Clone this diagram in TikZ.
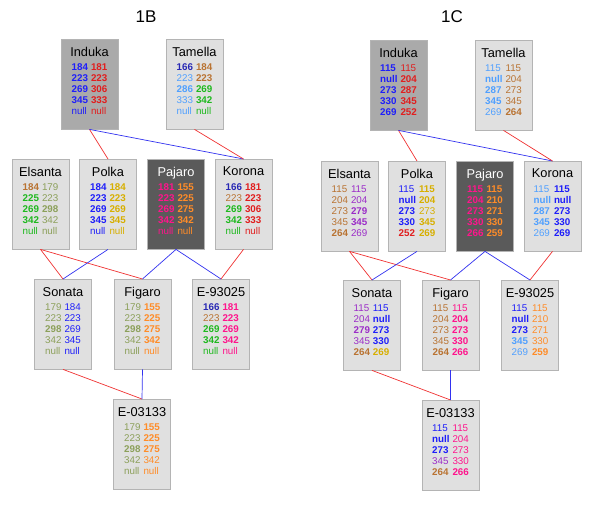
\documentclass[tikz,border=0pt]{standalone}
\usepackage{fontspec}
\setmainfont{Liberation Sans}
\usetikzlibrary{positioning}

\definecolor{cblue}{RGB}{30,30,250}
\definecolor{cdblue}{RGB}{40,40,180}
\definecolor{cred}{RGB}{225,30,30}
\definecolor{cbrown}{RGB}{185,115,50}
\definecolor{clblue}{RGB}{80,160,255}
\definecolor{cgreen}{RGB}{30,185,30}
\definecolor{colive}{RGB}{140,160,90}
\definecolor{cgold}{RGB}{215,175,0}
\definecolor{cpink}{RGB}{255,20,140}
\definecolor{corange}{RGB}{255,140,40}
\definecolor{cpurple}{RGB}{155,45,200}
\definecolor{boxlight}{RGB}{224,224,224}
\definecolor{boxmid}{RGB}{170,170,170}
\definecolor{boxdark}{RGB}{90,90,90}
\definecolor{boxline}{RGB}{180,180,180}
\definecolor{linkred}{RGB}{240,50,50}
\definecolor{linkblue}{RGB}{50,50,240}

\newcommand{\valB}[2]{\textcolor{#1}{\textbf{#2}}}
\newcommand{\valN}[2]{\textcolor{#1}{#2}}
\newcommand{\cvname}[1]{{\fontsize{12.8}{12.8}\selectfont #1}\\[3.3pt]}
\newcommand{\cvtab}[1]{\begin{tabular}[t]{@{}l@{\hspace{3pt}}l@{}}#1\rule[-7pt]{0pt}{1pt}\end{tabular}}

\begin{document}
\begin{tikzpicture}[
  x=1pt, y=-1pt,
  cv/.style={draw=boxline, fill=boxlight, minimum width=57pt, minimum height=90pt,
    anchor=north, align=center, inner sep=0pt, font=\fontsize{9.8}{11}\selectfont},
  cvmid/.style={cv, fill=boxmid},
  cvdark/.style={cv, fill=boxdark, text=white},
  ttl/.style={font=\fontsize{17}{17}\selectfont},
  lr/.style={draw=linkred, line width=0.7pt},
  lb/.style={draw=linkblue, line width=0.7pt}
]
  \useasboundingbox[fill=white] (0,0) rectangle (600,505);

  % panel 1B
  \node[ttl] (t1B) at (146,17) {1B};
  \node[cvmid] (bInduka) at (89.5,39) {\cvname{Induka}\cvtab{
    \valB{cblue}{184} & \valB{cred}{181}\\
    \valB{cblue}{223} & \valB{cred}{223}\\
    \valB{cblue}{269} & \valB{cred}{306}\\
    \valB{cblue}{345} & \valB{cred}{333}\\
    \valN{cblue}{null} & \valN{cred}{null}}};
  \node[cv] (bTamella) at (194.5,39) {\cvname{Tamella}\cvtab{
    \valB{cdblue}{166} & \valB{cbrown}{184}\\
    \valN{clblue}{223} & \valB{cbrown}{223}\\
    \valB{clblue}{286} & \valB{cgreen}{269}\\
    \valN{clblue}{333} & \valB{cgreen}{342}\\
    \valN{clblue}{null} & \valN{cgreen}{null}}};
  \node[cv] (bElsanta) at (40.5,159) {\cvname{Elsanta}\cvtab{
    \valB{cbrown}{184} & \valN{colive}{179}\\
    \valB{cgreen}{225} & \valN{colive}{223}\\
    \valB{cgreen}{269} & \valB{colive}{298}\\
    \valB{cgreen}{342} & \valN{colive}{342}\\
    \valN{cgreen}{null} & \valN{colive}{null}}};
  \node[cv] (bPolka) at (108,159) {\cvname{Polka}\cvtab{
    \valB{cblue}{184} & \valB{cgold}{184}\\
    \valB{cblue}{223} & \valB{cgold}{223}\\
    \valB{cblue}{269} & \valB{cgold}{269}\\
    \valB{cblue}{345} & \valB{cgold}{345}\\
    \valN{cblue}{null} & \valN{cgold}{null}}};
  \node[cvdark] (bPajaro) at (176,159) {\cvname{Pajaro}\cvtab{
    \valB{cpink}{181} & \valB{corange}{155}\\
    \valB{cpink}{223} & \valB{corange}{225}\\
    \valB{cpink}{269} & \valB{corange}{275}\\
    \valB{cpink}{342} & \valB{corange}{342}\\
    \valN{cpink}{null} & \valN{corange}{null}}};
  \node[cv] (bKorona) at (243.5,159) {\cvname{Korona}\cvtab{
    \valB{cdblue}{166} & \valB{cred}{181}\\
    \valN{cbrown}{223} & \valB{cred}{223}\\
    \valB{cgreen}{269} & \valB{cred}{306}\\
    \valB{cgreen}{342} & \valB{cred}{333}\\
    \valN{cgreen}{null} & \valN{cred}{null}}};
  \node[cv] (bSonata) at (63,279) {\cvname{Sonata}\cvtab{
    \valN{colive}{179} & \valN{cblue}{184}\\
    \valN{colive}{223} & \valN{cblue}{223}\\
    \valB{colive}{298} & \valN{cblue}{269}\\
    \valN{colive}{342} & \valN{cblue}{345}\\
    \valN{colive}{null} & \valN{cblue}{null}}};
  \node[cv] (bFigaro) at (142.5,279) {\cvname{Figaro}\cvtab{
    \valN{colive}{179} & \valB{corange}{155}\\
    \valN{colive}{223} & \valB{corange}{225}\\
    \valB{colive}{298} & \valB{corange}{275}\\
    \valN{colive}{342} & \valB{corange}{342}\\
    \valN{colive}{null} & \valN{corange}{null}}};
  \node[cv] (bE93025) at (221,279) {\cvname{E-93025}\cvtab{
    \valB{cdblue}{166} & \valB{cpink}{181}\\
    \valN{cbrown}{223} & \valB{cpink}{223}\\
    \valB{cgreen}{269} & \valB{cpink}{269}\\
    \valB{cgreen}{342} & \valB{cpink}{342}\\
    \valN{cgreen}{null} & \valN{cpink}{null}}};
  \node[cv] (bE03133) at (142,399) {\cvname{E-03133}\cvtab{
    \valN{colive}{179} & \valB{corange}{155}\\
    \valN{colive}{223} & \valB{corange}{225}\\
    \valB{colive}{298} & \valB{corange}{275}\\
    \valN{colive}{342} & \valN{corange}{342}\\
    \valN{colive}{null} & \valN{corange}{null}}};

  \draw[lr] (bInduka.south) -- (bPolka.north);
  \draw[lb] (bInduka.south) -- (bKorona.north);
  \draw[lr] (bTamella.south) -- (bKorona.north);
  \draw[lr] (bElsanta.south) -- (bSonata.north);
  \draw[lr] (bElsanta.south) -- (bFigaro.north);
  \draw[lb] (bPolka.south) -- (bSonata.north);
  \draw[lb] (bPajaro.south) -- (bFigaro.north);
  \draw[lb] (bPajaro.south) -- (bE93025.north);
  \draw[lr] (bKorona.south) -- (bE93025.north);
  \draw[lr] (bSonata.south) -- (bE03133.north);
  \draw[lb] (bFigaro.south) -- (bE03133.north);

  % panel 1C
  \node[ttl] (t1C) at (452,17) {1C};
  \node[cvmid] (cInduka) at (398.5,40) {\cvname{Induka}\cvtab{
    \valB{cblue}{115} & \valN{cred}{115}\\
    \valB{cblue}{null} & \valB{cred}{204}\\
    \valB{cblue}{273} & \valB{cred}{287}\\
    \valB{cblue}{330} & \valB{cred}{345}\\
    \valB{cblue}{269} & \valB{cred}{252}}};
  \node[cv] (cTamella) at (503.5,40) {\cvname{Tamella}\cvtab{
    \valN{clblue}{115} & \valN{cbrown}{115}\\
    \valB{clblue}{null} & \valN{cbrown}{204}\\
    \valB{clblue}{287} & \valN{cbrown}{273}\\
    \valB{clblue}{345} & \valN{cbrown}{345}\\
    \valN{clblue}{269} & \valB{cbrown}{264}}};
  \node[cv] (cElsanta) at (349.5,161) {\cvname{Elsanta}\cvtab{
    \valN{cbrown}{115} & \valN{cpurple}{115}\\
    \valN{cbrown}{204} & \valN{cpurple}{204}\\
    \valN{cbrown}{273} & \valB{cpurple}{279}\\
    \valN{cbrown}{345} & \valB{cpurple}{345}\\
    \valB{cbrown}{264} & \valN{cpurple}{269}}};
  \node[cv] (cPolka) at (417,161) {\cvname{Polka}\cvtab{
    \valN{cblue}{115} & \valB{cgold}{115}\\
    \valB{cblue}{null} & \valB{cgold}{204}\\
    \valB{cblue}{273} & \valN{cgold}{273}\\
    \valB{cblue}{330} & \valB{cgold}{345}\\
    \valB{cred}{252} & \valB{cgold}{269}}};
  \node[cvdark] (cPajaro) at (485,161) {\cvname{Pajaro}\cvtab{
    \valB{cpink}{115} & \valB{corange}{115}\\
    \valB{cpink}{204} & \valB{corange}{210}\\
    \valB{cpink}{273} & \valB{corange}{271}\\
    \valB{cpink}{330} & \valB{corange}{330}\\
    \valB{cpink}{266} & \valB{corange}{259}}};
  \node[cv] (cKorona) at (552.5,161) {\cvname{Korona}\cvtab{
    \valN{clblue}{115} & \valB{cblue}{115}\\
    \valB{clblue}{null} & \valB{cblue}{null}\\
    \valB{clblue}{287} & \valB{cblue}{273}\\
    \valB{clblue}{345} & \valB{cblue}{330}\\
    \valN{clblue}{269} & \valB{cblue}{269}}};
  \node[cv] (cSonata) at (372,280) {\cvname{Sonata}\cvtab{
    \valN{cpurple}{115} & \valN{cblue}{115}\\
    \valN{cpurple}{204} & \valB{cblue}{null}\\
    \valB{cpurple}{279} & \valB{cblue}{273}\\
    \valN{cpurple}{345} & \valB{cblue}{330}\\
    \valB{cbrown}{264} & \valB{cgold}{269}}};
  \node[cv] (cFigaro) at (450.5,280) {\cvname{Figaro}\cvtab{
    \valN{cbrown}{115} & \valN{cpink}{115}\\
    \valN{cbrown}{204} & \valB{cpink}{204}\\
    \valN{cbrown}{273} & \valB{cpink}{273}\\
    \valN{cbrown}{345} & \valB{cpink}{330}\\
    \valB{cbrown}{264} & \valB{cpink}{266}}};
  \node[cv] (cE93025) at (530,280) {\cvname{E-93025}\cvtab{
    \valN{cblue}{115} & \valN{corange}{115}\\
    \valB{cblue}{null} & \valN{corange}{210}\\
    \valB{cblue}{273} & \valN{corange}{271}\\
    \valB{clblue}{345} & \valN{corange}{330}\\
    \valN{clblue}{269} & \valB{corange}{259}}};
  \node[cv] (cE03133) at (450.5,400) {\cvname{E-03133}\cvtab{
    \valN{cblue}{115} & \valN{cpink}{115}\\
    \valB{cblue}{null} & \valN{cpink}{204}\\
    \valB{cblue}{273} & \valN{cpink}{273}\\
    \valN{cpurple}{345} & \valN{cpink}{330}\\
    \valB{cbrown}{264} & \valB{cpink}{266}}};

  \draw[lr] (cInduka.south) -- (cPolka.north);
  \draw[lb] (cInduka.south) -- (cKorona.north);
  \draw[lr] (cTamella.south) -- (cKorona.north);
  \draw[lr] (cElsanta.south) -- (cSonata.north);
  \draw[lr] (cElsanta.south) -- (cFigaro.north);
  \draw[lb] (cPolka.south) -- (cSonata.north);
  \draw[lb] (cPajaro.south) -- (cFigaro.north);
  \draw[lb] (cPajaro.south) -- (cE93025.north);
  \draw[lr] (cKorona.south) -- (cE93025.north);
  \draw[lr] (cSonata.south) -- (cE03133.north);
  \draw[lb] (cFigaro.south) -- (cE03133.north);
\end{tikzpicture}
\end{document}
